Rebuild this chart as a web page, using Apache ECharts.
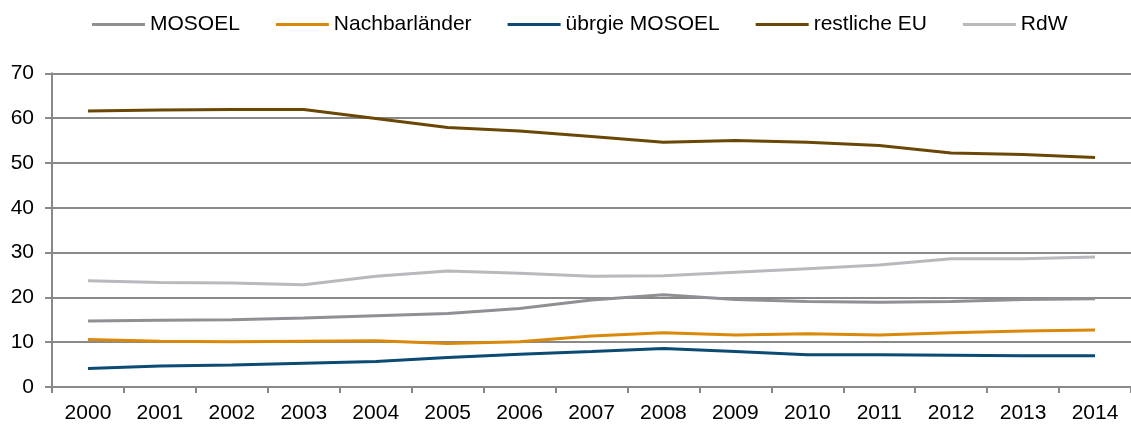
<!DOCTYPE html>
<html><head><meta charset="utf-8">
<script src="https://cdn.jsdelivr.net/npm/echarts@6/dist/echarts.min.js"></script>
<style>html,body{margin:0;padding:0;background:#fff}#c{width:1131px;height:424px}</style>
</head><body><div id="c"></div>
<script>
const categories = ['2000','2001','2002','2003','2004','2005','2006','2007','2008','2009','2010','2011','2012','2013','2014'];
const mosoel = [14.7, 14.9, 15.0, 15.4, 15.9, 16.4, 17.5, 19.4, 20.6, 19.5, 19.1, 18.9, 19.1, 19.5, 19.7];
const nachbar = [10.6, 10.2, 10.1, 10.2, 10.3, 9.7, 10.1, 11.4, 12.1, 11.6, 11.9, 11.6, 12.1, 12.5, 12.7];
const uebrige = [4.15, 4.7, 4.9, 5.3, 5.7, 6.6, 7.3, 7.9, 8.6, 7.9, 7.2, 7.2, 7.1, 7.0, 7.0];
const restEU = [61.6, 61.8, 61.9, 61.9, 59.9, 57.9, 57.1, 55.9, 54.6, 55.0, 54.6, 53.9, 52.2, 51.9, 51.2];
const rdw = [23.7, 23.3, 23.2, 22.8, 24.7, 25.9, 25.4, 24.7, 24.8, 25.6, 26.4, 27.2, 28.6, 28.6, 29.0];
const yTicks = [0, 10, 20, 30, 40, 50, 60, 70];

const names = ['MOSOEL', 'Nachbarländer', 'übrgie MOSOEL', 'restliche EU', 'RdW'];
const colors = ['#8F8F94', '#D98A0C', '#0B4A73', '#6B4706', '#B9B9BD'];
const datas = [mosoel, nachbar, uebrige, restEU, rdw];

const chart = echarts.init(document.getElementById('c'), null, {renderer: 'canvas'});
const font = 'Liberation Sans, Arial, sans-serif';
chart.setOption({
  animation: false,
  color: colors,
  textStyle: {fontFamily: font},
  legend: {
    top: 9, left: 87,
    icon: 'rect', itemWidth: 53, itemHeight: 3, itemGap: 36,
    textStyle: {fontSize: 21, color: '#000', fontFamily: font},
    data: names
  },
  grid: {left: 52, top: 73.3, width: 1083, height: 314.4, containLabel: false},
  xAxis: {
    type: 'category', data: categories, boundaryGap: true,
    axisLine: {lineStyle: {color: '#898989', width: 2}},
    axisTick: {show: true, alignWithLabel: false, length: 6, lineStyle: {color: '#898989', width: 2}},
    axisLabel: {fontSize: 21, color: '#000', margin: 16, fontFamily: font}
  },
  yAxis: {
    type: 'value', min: 0, max: 70, interval: 10,
    axisLine: {show: true, lineStyle: {color: '#898989', width: 2}},
    axisTick: {show: true, length: 7, lineStyle: {color: '#898989', width: 2}},
    splitLine: {lineStyle: {color: '#898989', width: 2}},
    axisLabel: {fontSize: 21, color: '#000', margin: 18, fontFamily: font,
      formatter: v => yTicks.includes(v) ? String(v) : ''}
  },
  series: names.map((n, i) => ({
    name: n, type: 'line', data: datas[i], symbol: 'none', smooth: false,
    lineStyle: {width: 3, color: colors[i]}, itemStyle: {color: colors[i]}
  }))
});
</script></body></html>
